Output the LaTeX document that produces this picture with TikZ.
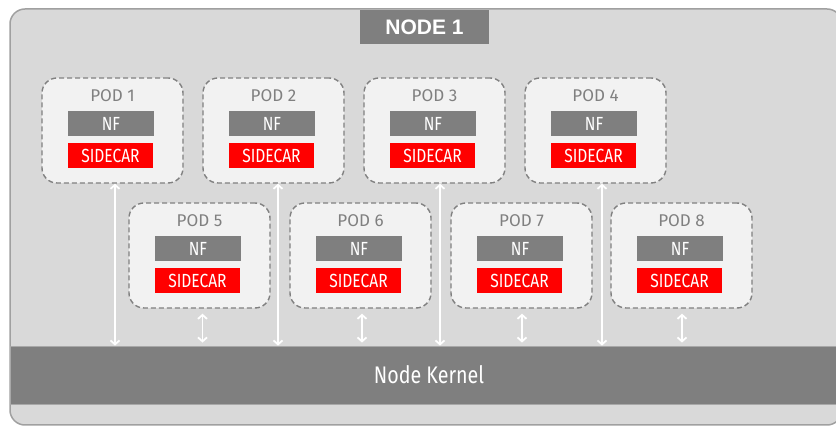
\documentclass[tikz,border=0pt]{standalone}
\usepackage{fontspec}
\setmainfont{Fira Sans}
\newfontfamily\condfont[FakeStretch=0.82]{Fira Sans}
\newfontfamily\headfont{Liberation Sans}
\usetikzlibrary{arrows.meta}

\definecolor{framebg}{HTML}{D9D9D9}
\definecolor{frameline}{HTML}{A0A0A0}
\definecolor{barfill}{HTML}{7F7F7F}
\definecolor{barline}{HTML}{A8A8A8}
\definecolor{podbg}{HTML}{F2F2F2}
\definecolor{podline}{HTML}{808080}
\definecolor{sidered}{HTML}{FF0000}

\begin{document}
\begin{tikzpicture}[x=1pt,y=-1pt,
  pod/.style={draw=podline, line width=1.4pt, dash pattern=on 5pt off 3pt,
    fill=podbg, rounded corners=15pt, minimum width=141pt,
    minimum height=105pt, inner sep=0pt},
  podtitle/.style={text=podline, inner sep=0pt,
    font=\fontsize{17}{17}\selectfont},
  nfbox/.style={fill=barfill, text=white, minimum width=86pt,
    minimum height=25pt, inner sep=0pt,
    font=\condfont\fontsize{19}{19}\selectfont},
  scbox/.style={fill=sidered, text=white, minimum width=85pt,
    minimum height=25pt, inner sep=0pt,
    font=\condfont\fontsize{19}{19}\selectfont},
  link/.style={draw=white, line width=1.8pt,
    {Straight Barb[length=4pt,width=9pt]}-{Straight Barb[length=4pt,width=9pt]}}
]
\useasboundingbox (0,0) rectangle (836,427);

\begin{scope}
  \clip (0,0) rectangle (836,427);
  % outer machine frame
  \draw[draw=frameline, fill=framebg, line width=1.5pt, rounded corners=15pt]
    (10,9) rectangle (842,425);
  % kernel bar
  \node[fill=barfill, draw=barline, line width=0.8pt, minimum width=838pt,
        minimum height=58pt, inner sep=0pt, text=white,
        font=\condfont\fontsize{24}{24}\selectfont]
    (kernel) at (429,375) {Node Kernel};
\end{scope}

% heading tab
\node[fill=barfill, text=white, minimum width=129pt, minimum height=34pt,
      inner sep=0pt, font=\headfont\bfseries\fontsize{21}{21}\selectfont]
  (head) at (424.5,27) {NODE 1};

% pods: name / centre x / centre y
\foreach \n/\cx/\cy in {1/112.5/130.5, 2/273.5/130.5, 3/434.5/130.5, 4/595.5/130.5,
                         5/199.5/255.5, 6/360.5/255.5, 7/521.5/255.5, 8/681.5/255.5}{
  \node[pod] (p\n) at (\cx,\cy) {};
  \node[podtitle] (t\n) at ([yshift=34.5pt]p\n.center) {POD \n};
  \node[nfbox] (nf\n) at ([xshift=-1.5pt,yshift=7pt]p\n.center) {NF};
  \node[scbox] (sc\n) at ([xshift=-2pt,yshift=-25pt]p\n.center) {SIDECAR};
}

% links from upper pods down to the kernel
\foreach \n/\dx in {1/2.5, 2/4.5, 3/5.5, 4/6.5}{
  \draw[link] ([xshift=\dx pt]p\n.south) -- ([xshift=\dx pt]p\n.south |- kernel.north);
}
% short links from lower pods to the kernel
\foreach \n/\dx in {5/3, 6/1.5, 7/0.5, 8/0.5}{
  \draw[link, shorten <=5pt, shorten >=3pt]
    ([xshift=\dx pt]p\n.south) -- ([xshift=\dx pt]p\n.south |- kernel.north);
}
\end{tikzpicture}
\end{document}
